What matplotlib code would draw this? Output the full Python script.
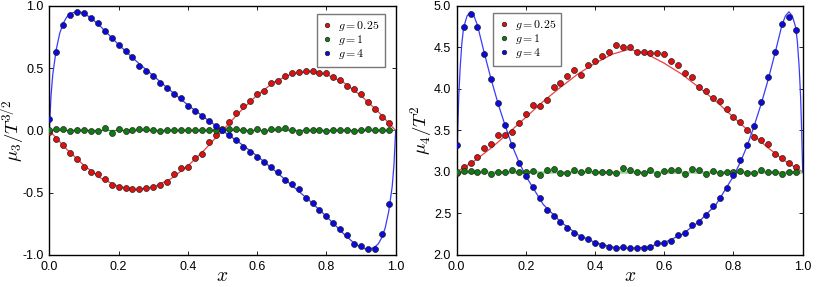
import numpy as np
import matplotlib
matplotlib.use("Agg")
import matplotlib.pyplot as plt

plt.rcParams['font.family'] = ['Liberation Sans', 'DejaVu Sans']
plt.rcParams['mathtext.fontset'] = 'cm'
plt.rcParams['axes.unicode_minus'] = False

# ---------------- data ----------------
x_pts = [0.00, 0.02, 0.04, 0.06, 0.08, 0.10, 0.12, 0.14, 0.16, 0.18,
         0.20, 0.22, 0.24, 0.26, 0.28, 0.30, 0.32, 0.34, 0.36, 0.38,
         0.40, 0.42, 0.44, 0.46, 0.48, 0.50, 0.52, 0.54, 0.56, 0.58,
         0.60, 0.62, 0.64, 0.66, 0.68, 0.70, 0.72, 0.74, 0.76, 0.78,
         0.80, 0.82, 0.84, 0.86, 0.88, 0.90, 0.92, 0.94, 0.96, 0.98]

# mu3 / T^{3/2}
mu3_g025 = [-0.01, -0.07, -0.12, -0.18, -0.23, -0.29, -0.33, -0.35, -0.39, -0.44,
            -0.45, -0.46, -0.47, -0.47, -0.46, -0.45, -0.44, -0.41, -0.35, -0.30,
            -0.29, -0.22, -0.19, -0.09, -0.04, 0.01, 0.07, 0.14, 0.20, 0.24,
            0.29, 0.32, 0.38, 0.40, 0.44, 0.465, 0.47, 0.48, 0.48, 0.465,
            0.46, 0.43, 0.405, 0.36, 0.33, 0.29, 0.23, 0.175, 0.11, 0.06]
mu3_g1 = [0.007, 0.012, 0.015, -0.001, 0.001, 0.007, -0.001, -0.001, 0.02, -0.018,
          0.015, -0.004, 0.001, 0.009, 0.012, 0.004, -0.001, 0.007, 0.001, 0.004,
          0.004, 0.001, 0.001, 0.004, 0.004, 0.007, 0.009, 0.009, 0.004, -0.001,
          0.015, -0.004, 0.009, 0.015, 0.017, 0.007, -0.009, 0.007, 0.007, 0.004,
          -0.001, 0.004, 0.001, 0.001, -0.001, 0.007, 0.012, 0.004, 0.004, 0.004]
mu3_g4 = [0.096, 0.63, 0.85, 0.93, 0.95, 0.94, 0.90, 0.86, 0.80, 0.74,
          0.69, 0.64, 0.59, 0.52, 0.48, 0.44, 0.38, 0.34, 0.29, 0.26,
          0.20, 0.16, 0.12, 0.08, 0.04, 0.0, -0.04, -0.08, -0.13, -0.17,
          -0.21, -0.25, -0.29, -0.33, -0.40, -0.43, -0.47, -0.54, -0.58, -0.64,
          -0.69, -0.74, -0.79, -0.84, -0.91, -0.93, -0.95, -0.95, -0.83, -0.59]

# mu4 / T^2
mu4_g025 = [2.99, 3.06, 3.11, 3.18, 3.29, 3.34, 3.44, 3.44, 3.48, 3.59,
            3.70, 3.81, 3.80, 3.87, 4.03, 4.07, 4.16, 4.23, 4.17, 4.29,
            4.34, 4.40, 4.44, 4.53, 4.50, 4.50, 4.45, 4.44, 4.43, 4.43,
            4.42, 4.34, 4.29, 4.19, 4.15, 4.03, 3.98, 3.89, 3.86, 3.76,
            3.66, 3.60, 3.51, 3.42, 3.38, 3.34, 3.22, 3.17, 3.11, 3.06]
mu4_g1 = [3.00, 3.01, 3.01, 3.00, 3.01, 2.98, 3.00, 3.00, 3.02, 3.00,
          3.00, 3.01, 2.96, 3.02, 3.04, 2.99, 2.99, 3.02, 3.00, 3.03,
          3.00, 3.00, 3.00, 2.99, 3.05, 3.02, 3.00, 2.99, 3.02, 2.98,
          3.01, 3.03, 3.02, 2.98, 3.04, 3.03, 2.98, 3.01, 2.99, 3.00,
          3.00, 3.01, 2.99, 2.99, 3.02, 3.00, 3.00, 2.98, 3.00, 3.00]
mu4_g4 = [3.32, 4.75, 4.90, 4.75, 4.42, 4.12, 3.83, 3.57, 3.32, 3.11,
          2.95, 2.82, 2.69, 2.54, 2.47, 2.40, 2.32, 2.27, 2.22, 2.19,
          2.15, 2.12, 2.10, 2.09, 2.10, 2.08, 2.09, 2.09, 2.10, 2.14,
          2.15, 2.17, 2.24, 2.27, 2.36, 2.40, 2.48, 2.59, 2.69, 2.81,
          2.96, 3.15, 3.32, 3.56, 3.84, 4.14, 4.44, 4.78, 4.87, 4.71]

# theory curves
cx_mu3_g4 = [0, 0.005, 0.01, 0.02, 0.03, 0.04, 0.05, 0.06, 0.07, 0.08, 0.09, 0.10, 0.12,
             0.15, 0.20, 0.25, 0.30, 0.35, 0.40, 0.45, 0.50, 0.55, 0.60, 0.65, 0.70,
             0.75, 0.80, 0.85, 0.88, 0.90, 0.91, 0.92, 0.93, 0.94, 0.95, 0.96, 0.97,
             0.98, 0.99, 0.995, 1.0]
cy_mu3_g4 = [0.0, 0.28, 0.45, 0.65, 0.78, 0.86, 0.91, 0.935, 0.948, 0.952, 0.95, 0.94, 0.905,
             0.83, 0.69, 0.56, 0.44, 0.32, 0.205, 0.10, 0.0, -0.10, -0.205, -0.32, -0.44,
             -0.56, -0.69, -0.83, -0.905, -0.94, -0.95, -0.952, -0.948, -0.935, -0.91, -0.86, -0.78,
             -0.65, -0.45, -0.28, 0.0]
cx_mu3_g025 = [0.0, 0.05, 0.10, 0.15, 0.20, 0.25, 0.30, 0.35, 0.40, 0.45, 0.50,
               0.55, 0.60, 0.65, 0.70, 0.75, 0.80, 0.85, 0.90, 0.95, 1.0]
cy_mu3_g025 = [0.0, -0.15, -0.28, -0.385, -0.45, -0.475, -0.455, -0.39, -0.285, -0.15, 0.0,
               0.15, 0.285, 0.39, 0.455, 0.475, 0.45, 0.385, 0.28, 0.15, 0.0]
cx_mu3_g1 = [0.0, 1.0]
cy_mu3_g1 = [0.0, 0.0]

cx_mu4_g4 = [0, 0.003, 0.006, 0.01, 0.015, 0.02, 0.03, 0.04, 0.05, 0.06, 0.08, 0.10, 0.12,
             0.14, 0.16, 0.18, 0.20, 0.25, 0.30, 0.35, 0.40, 0.45, 0.50, 0.55, 0.60,
             0.65, 0.70, 0.75, 0.80, 0.82, 0.84, 0.86, 0.88, 0.90, 0.92, 0.94, 0.95,
             0.96, 0.97, 0.98, 0.985, 0.99, 0.994, 0.997, 1.0]
cy_mu4_g4 = [3.0, 3.5, 3.9, 4.25, 4.55, 4.74, 4.88, 4.93, 4.88, 4.77, 4.43, 4.11, 3.82,
             3.56, 3.32, 3.12, 2.95, 2.61, 2.40, 2.245, 2.15, 2.095, 2.08, 2.095, 2.15,
             2.245, 2.40, 2.61, 2.95, 3.12, 3.32, 3.56, 3.82, 4.11, 4.43, 4.77, 4.88,
             4.93, 4.88, 4.74, 4.55, 4.25, 3.9, 3.5, 3.0]
cx_mu4_g025 = [0.0, 0.05, 0.10, 0.15, 0.20, 0.25, 0.30, 0.35, 0.40, 0.45, 0.50,
               0.55, 0.60, 0.65, 0.70, 0.75, 0.80, 0.85, 0.90, 0.95, 1.0]
cy_mu4_g025 = [3.0, 3.13, 3.29, 3.47, 3.66, 3.85, 4.02, 4.18, 4.31, 4.42, 4.48,
               4.42, 4.31, 4.18, 4.02, 3.85, 3.66, 3.47, 3.29, 3.13, 3.0]
cx_mu4_g1 = [0.0, 1.0]
cy_mu4_g1 = [3.0, 3.0]

labels = ['$g = 0.25$', '$g = 1$', '$g = 4$']
xticks = [0.0, 0.2, 0.4, 0.6, 0.8, 1.0]
yticks_l = [-1.0, -0.5, 0.0, 0.5, 1.0]
yticks_r = [2.0, 2.5, 3.0, 3.5, 4.0, 4.5, 5.0]

# ---------------- style ----------------
dot_cols = ['#e01010', '#127a12', '#0a0ae0']
line_cols = ['#f04040', '#2e9e2e', '#3a3aff']

fig = plt.figure(figsize=(8.3, 2.87), dpi=100)
axL = fig.add_axes([0.0594, 0.1115, 0.4173, 0.8676])
axR = fig.add_axes([0.5502, 0.1115, 0.4169, 0.8676])

def draw(ax, series, curves, green_line_kw):
    for i, (cx, cy) in enumerate(curves):
        if i == 1:
            ax.plot(cx, cy, **green_line_kw, zorder=2)
        else:
            ax.plot(cx, cy, color=line_cols[i], lw=0.9, zorder=2)
    handles = []
    for i, ys in enumerate(series):
        h, = ax.plot(x_pts, ys, 'o', ms=4.3, mfc=dot_cols[i], mec='#222222', mew=0.5,
                     label=labels[i], zorder=3)
        handles.append(h)
    ax.set_xlim(0, 1)
    ax.set_xticks(xticks)
    ax.set_xticklabels([f'{t:.1f}' for t in xticks])
    ax.tick_params(direction='in', length=3, width=0.6, labelsize=9, top=True, right=True, pad=4)
    for s in ax.spines.values():
        s.set_linewidth(1.0)
        s.set_color('black')
    ax.set_xlabel('$x$', fontsize=14)
    ax.xaxis.set_label_coords(0.5, -0.085)
    ax.xaxis.label.set_va('center')
    return handles

hL = draw(axL, [mu3_g025, mu3_g1, mu3_g4],
          [(cx_mu3_g025, cy_mu3_g025), (cx_mu3_g1, cy_mu3_g1), (cx_mu3_g4, cy_mu3_g4)],
          dict(color=line_cols[1], lw=0.9))
axL.set_ylim(-1.0, 1.0)
axL.set_yticks(yticks_l)
axL.set_yticklabels([f'{t:.1f}' for t in yticks_l])
axL.set_ylabel('$\\mu_3/T^{3/2}$', fontsize=13.5)
axL.yaxis.set_label_coords(-0.104, 0.5)
axL.yaxis.label.set_va('center')

hR = draw(axR, [mu4_g025, mu4_g1, mu4_g4],
          [(cx_mu4_g025, cy_mu4_g025), (cx_mu4_g1, cy_mu4_g1), (cx_mu4_g4, cy_mu4_g4)],
          dict(color='#8fd48f', lw=1.8))
axR.set_ylim(2.0, 5.0)
axR.set_yticks(yticks_r)
axR.set_yticklabels([f'{t:.1f}' for t in yticks_r])
axR.set_ylabel('$\\mu_4/T^{2}$', fontsize=13.5)
axR.yaxis.set_label_coords(-0.103, 0.5)
axR.yaxis.label.set_va('center')

legkw = dict(fontsize=8.5, frameon=True, fancybox=False, edgecolor='#777777',
             handlelength=0.9, handletextpad=0.5, borderpad=0.45, labelspacing=0.0,
             borderaxespad=0.0, markerscale=0.75)
lg1 = axL.legend(handles=hL, loc='upper right', bbox_to_anchor=(0.969, 0.968), **legkw)
lg2 = axR.legend(handles=hR, loc='upper left', bbox_to_anchor=(0.105, 0.972), **legkw)
for lg in (lg1, lg2):
    lg.get_frame().set_linewidth(1.0)
    lg.get_frame().set_alpha(1.0)

fig.savefig('out.png', dpi=100)
